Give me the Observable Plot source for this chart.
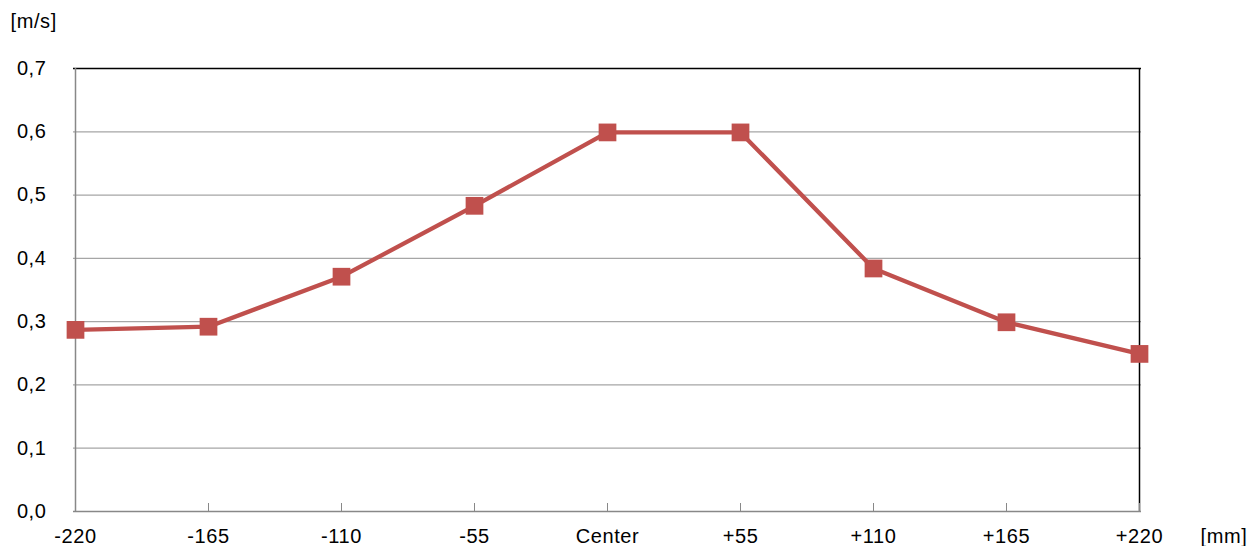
<!DOCTYPE html>
<html>
<head>
<meta charset="utf-8">
<script src="https://cdn.jsdelivr.net/npm/d3@7"></script>
<script src="https://cdn.jsdelivr.net/npm/@observablehq/plot@0.6"></script>
<style>
  html, body { margin: 0; padding: 0; background: #fff; }
  #chart svg { display: block; }
  #chart svg text { letter-spacing: 0.6px; }
</style>
</head>
<body>
<div id="chart"></div>
<script>
const positions = ["-220", "-165", "-110", "-55", "Center", "+55", "+110", "+165", "+220"];
const speeds = [0.287, 0.292, 0.371, 0.483, 0.599, 0.599, 0.384, 0.299, 0.249];
const yTicks = [0, 0.1, 0.2, 0.3, 0.4, 0.5, 0.6, 0.7];
const yUnit = "[m/s]";
const xUnit = "[mm]";

const data = positions.map((p, i) => ({pos: p, v: speeds[i]}));
const red = "#c0504d";
const fmt = d => d.toFixed(1).replace(".", ",");

const chart = Plot.plot({
  width: 1258,
  height: 546,
  marginLeft: 73,
  marginRight: 117,
  marginTop: 68,
  marginBottom: 35,
  style: {fontFamily: "'Liberation Sans', Arial, sans-serif", fontSize: "20px", color: "#000", background: "#fff"},
  x: {type: "point", domain: positions, padding: 0},
  y: {domain: [0, 0.7]},
  marks: [
    Plot.ruleY(yTicks.filter(d => d > 0 && d < 0.7), {stroke: "#a6a6a6", strokeWidth: 1.3}),
    Plot.ruleY([0.7], {stroke: "#000", strokeWidth: 1.3}),
    Plot.ruleX([positions[positions.length - 1]], {y1: 0, y2: 0.7, stroke: "#000", strokeWidth: 1.5}),
    Plot.axisY({ticks: yTicks, tickFormat: fmt, tickSize: 0, tickPadding: 27, label: null, fill: "#000", fontSize: 20}),
    Plot.axisX({tickSize: -8, tickPadding: 25, label: null, stroke: "#888", fill: "#000", fontSize: 20}),
    Plot.ruleX([positions[0]], {y1: 0, y2: 0.7, stroke: "#888", strokeWidth: 1.5}),
    Plot.ruleY([0], {stroke: "#888", strokeWidth: 1.5}),
    Plot.line(data, {x: "pos", y: "v", stroke: red, strokeWidth: 4.3}),
    Plot.dot(data, {x: "pos", y: "v", symbol: "square", r: 10, fill: red, stroke: "none"}),
    Plot.text([yUnit], {frameAnchor: "top-left", lineAnchor: "middle", dx: -63, dy: -47, textAnchor: "start", fontSize: 20, fill: "#000"}),
    Plot.text([xUnit], {frameAnchor: "bottom-right", lineAnchor: "middle", dx: 59, dy: 25, textAnchor: "start", fontSize: 20, fill: "#000"})
  ]
});
document.getElementById("chart").appendChild(chart);
</script>
</body>
</html>
